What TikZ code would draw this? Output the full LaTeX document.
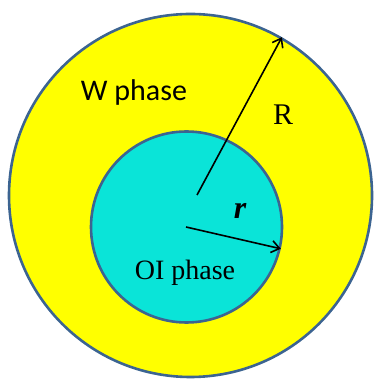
\documentclass[tikz,border=0pt]{standalone}
\usepackage{fontspec}
\setmainfont{Liberation Serif}
\newfontfamily\calibri{Carlito}
\usetikzlibrary{arrows.meta}
\definecolor{ringblue}{RGB}{60,100,145}
\definecolor{wyellow}{RGB}{255,255,0}
\definecolor{oicyan}{RGB}{10,228,216}
\tikzset{
  phase/.style={circle, draw=ringblue, line width=2.6pt, inner sep=0pt},
  radius arrow/.style={draw=black, line width=1.6pt, -{Straight Barb[length=8pt,width=12pt,line width=1.6pt]}},
  lbl/.style={inner sep=0pt, text=black}
}
\begin{document}
\begin{tikzpicture}[x=1pt,y=1pt]
\useasboundingbox (0,0) rectangle (375,379);
\node[phase, fill=wyellow, minimum size=363pt] (outer) at (190.5,183.5) {};
\node[phase, fill=oicyan, minimum size=191pt] (inner) at (186.5,152) {};
\coordinate (Rs) at (197,184);
\coordinate (rs) at (186,152);
\draw[radius arrow] (Rs) -- (outer.60.9);
\draw[radius arrow] (rs) -- (inner.-13.2);
\node[lbl, font=\calibri\fontsize{30}{30}\selectfont] (w) at (134,286) {W phase};
\node[lbl, font=\fontsize{30}{30}\selectfont] (R) at (283,264) {R};
\node[lbl, font=\bfseries\itshape\fontsize{32}{32}\selectfont] (r) at (240,168) {r};
\node[lbl, font=\fontsize{28}{28}\selectfont] (oi) at (185,106) {OI phase};
\end{tikzpicture}
\end{document}
